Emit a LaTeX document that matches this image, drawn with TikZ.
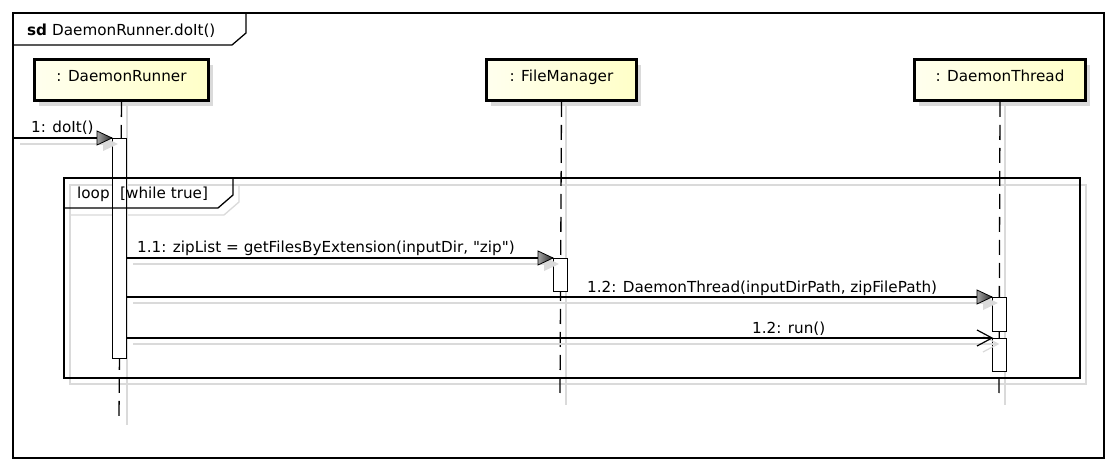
\documentclass[tikz,border=0pt]{standalone}
\usepackage{fontspec}
\setmainfont{DejaVu Sans}[Ligatures=TeXOff]
\definecolor{shadowgray}{RGB}{218,218,218}
\definecolor{headlight}{RGB}{255,255,238}
\definecolor{headdark}{RGB}{255,255,200}
\tikzset{
  frameline/.style={draw=black, line width=1.3pt},
  shadowline/.style={draw=shadowgray, line width=1.3pt},
  headbox/.style={draw=black, line width=3pt, minimum width=174pt, minimum height=41pt,
    inner sep=0pt, text height=12pt, text depth=9pt, left color=headlight, right color=headdark},
  headshadow/.style={fill=shadowgray, draw=none, minimum width=174pt, minimum height=41pt, inner sep=0pt},
  lifeline/.style={draw=black, line width=1.3pt, dash pattern=on 15pt off 8pt},
  actbox/.style={draw=black, fill=white, line width=1pt, minimum width=14pt, inner sep=0pt},
  msg/.style={draw=black, line width=1.3pt},
  msglabel/.style={anchor=base west, inner sep=0pt},
  garrow/.pic={\shade[left color=black!35, right color=black!85, draw=black, line width=0.8pt]
     (-15,-7) -- (0,0) -- (-15,7) -- cycle;},
  sarrow/.pic={\fill[shadowgray] (-15,-7) -- (0,0) -- (-15,7) -- cycle;},
  oarrow/.pic={\draw[black, line width=1.2pt] (-15,-8) -- (0,0) -- (-15,8);},
  soarrow/.pic={\draw[shadowgray, line width=1.2pt] (-15,-8) -- (0,0) -- (-15,8);},
}
\begin{document}
\begin{tikzpicture}[x=1pt, y=-1pt, font=\fontsize{15.2}{18}\selectfont]
\useasboundingbox (0,0) rectangle (1118,470);
\fill[white] (0,0) rectangle (1118,470);

% outer frame
\draw[frameline] (13,13) rectangle (1104,458);
\draw[frameline] (13,45) -- (232,45) -- (246,33) -- (246,13);
\node[anchor=base west, inner sep=0pt] (sdlbl) at (27,36) {\textbf{sd}};
\node[anchor=base west, inner sep=0pt] (sdname) at (52,36) {DaemonRunner.doIt()};

% loop fragment shadow
\draw[shadowline] (70,185) rectangle (1086,384);
\draw[shadowline] (70,215) -- (224,215) -- (239,202) -- (239,185);

% head shadows
\node[headshadow, anchor=north west] (drs) at (39,65) {};
\node[headshadow, anchor=north west, minimum width=150pt] (fms) at (491,65) {};
\node[headshadow, anchor=north west, minimum width=171pt] (dts) at (919,65) {};

% lifeline shadows
\draw[shadowline] (127,106) -- (127,425);
\draw[shadowline] (566,106) -- (566,405);
\draw[shadowline] (1005,106) -- (1005,405);

% heads
\node[headbox, anchor=north west] (dr) at (33,58) {: DaemonRunner};
\node[headbox, anchor=north west, minimum width=150pt] (fm) at (485,58) {: FileManager};
\node[headbox, anchor=north west, minimum width=171pt] (dt) at (913,58) {: DaemonThread};

% lifelines
\coordinate (drend) at (119,417);
\coordinate (fmend) at (560,397);
\coordinate (dtend) at (999,397);
\draw[lifeline] (dr.south) -- (drend);
\draw[lifeline] (fm.south) -- (fmend);
\draw[lifeline] (dt.south) -- (dtend);

% activations
\node[actbox, anchor=north west, minimum height=220pt] (a0) at (112,138) {};
\node[actbox, anchor=north west, minimum height=33pt] (a1) at (553,258) {};
\node[actbox, anchor=north west, minimum height=34pt] (a2) at (992,297) {};
\node[actbox, anchor=north west, minimum height=33pt] (a3) at (992,338) {};

% loop fragment
\draw[frameline] (64,178) rectangle (1080,378);
\draw[frameline] (64,208) -- (218,208) -- (233,195) -- (233,178);
\node[anchor=base west, inner sep=0pt] (looplbl) at (77,199) {loop};
\node[anchor=base west, inner sep=0pt] (loopcond) at (120,199) {[while true]};

% start points of the messages on the caller's activation
\coordinate (s11) at (a0.east |- a1.north west);
\coordinate (s12) at (a0.east |- a2.north west);
\coordinate (s13) at (a0.east |- a3.north west);

% message 1
\coordinate (found) at (13,138);
\draw[shadowline] (20,144) -- (104,144);
\pic at (118,144) {sarrow};
\draw[msg] (found) -- (a0.north west);
\pic at (a0.north west) {garrow};
\node[msglabel] (m1) at (31,133) {1: doIt()};

% message 1.1
\draw[shadowline] ([shift={(6pt,-6pt)}]s11) -- ([shift={(-8pt,-6pt)}]a1.north west);
\pic at ([shift={(6pt,-6pt)}]a1.north west) {sarrow};
\draw[msg] (s11) -- (a1.north west);
\pic at (a1.north west) {garrow};
\node[msglabel] (m11) at (137,253) {1.1: zipList = getFilesByExtension(inputDir, "zip")};

% message 1.2 constructor
\draw[shadowline] ([shift={(6pt,-6pt)}]s12) -- ([shift={(-8pt,-6pt)}]a2.north west);
\pic at ([shift={(6pt,-6pt)}]a2.north west) {sarrow};
\draw[msg] (s12) -- (a2.north west);
\pic at (a2.north west) {garrow};
\node[msglabel] (m12) at (587,292) {1.2: DaemonThread(inputDirPath, zipFilePath)};

% message 1.2 run
\draw[shadowline] ([shift={(6pt,-6pt)}]s13) -- ([shift={(6pt,-6pt)}]a3.north west);
\pic at ([shift={(6pt,-6pt)}]a3.north west) {soarrow};
\draw[msg] (s13) -- (a3.north west);
\pic at (a3.north west) {oarrow};
\node[msglabel] (m13) at (752,333) {1.2: run()};
\end{tikzpicture}
\end{document}
